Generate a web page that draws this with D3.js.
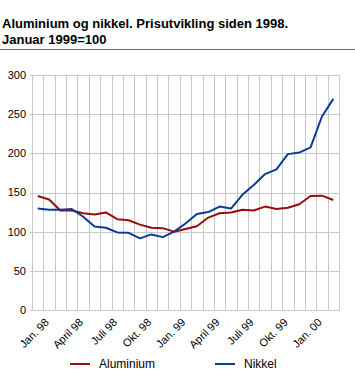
<!DOCTYPE html>
<html>
<head>
<meta charset="utf-8">
<script src="https://cdn.jsdelivr.net/npm/d3@7"></script>
<style>
  html, body { margin: 0; padding: 0; background: #fff; }
  svg { display: block; font-family: "Liberation Sans", Arial, sans-serif; }
</style>
</head>
<body>
<svg id="chart" width="355" height="378"></svg>
<script>
const titleLines = ["Aluminium og nikkel. Prisutvikling siden 1998.", "Januar 1999=100"];
const months = ["Jan. 98","Feb. 98","Mars 98","April 98","Mai 98","Juni 98","Juli 98","Aug. 98","Sep. 98","Okt. 98","Nov. 98","Des. 98",
                "Jan. 99","Feb. 99","Mars 99","April 99","Mai 99","Juni 99","Juli 99","Aug. 99","Sep. 99","Okt. 99","Nov. 99","Des. 99",
                "Jan. 00","Feb. 00","Mars 00"];
const tickLabels = ["Jan. 98","April 98","Juli 98","Okt. 98","Jan. 99","April 99","Juli 99","Okt. 99","Jan. 00"];
const aluminium = [145.5, 141, 127, 127, 123.5, 122, 124.5, 116, 114.5, 109, 105, 104.5, 100, 103.5, 107, 118, 123.5, 124.5, 128, 127, 132, 129, 130.5, 135, 145.5, 146, 140.5];
const nikkel    = [129.5, 128, 128, 129, 119, 106.5, 105, 99, 98.5, 91.5, 96.5, 93, 100, 110.5, 122.5, 125, 132, 129.5, 147, 159.5, 173.5, 179.5, 199, 201, 207.5, 247, 269.5];
const yTicks = [0, 50, 100, 150, 200, 250, 300];
const seriesNames = ["Aluminium", "Nikkel"];
const seriesColors = ["#9c0a0a", "#0a3a9a"];

const svg = d3.select("#chart");
const plotLeft = 32, plotRight = 339, plotTop = 75, plotBottom = 310;

// Title
svg.append("g").selectAll("text").data(titleLines).join("text")
  .attr("x", 2).attr("y", (d, i) => 28 + i * 16)
  .attr("font-size", 13).attr("font-weight", "bold").attr("fill", "#000")
  .text(d => d);
svg.append("line").attr("x1", 0).attr("x2", 355).attr("y1", 49.5).attr("y2", 49.5)
  .attr("stroke", "#228f8f").attr("stroke-width", 1);

const x = d3.scaleBand().domain(months).range([plotLeft, plotRight]).paddingInner(0).paddingOuter(0);
const y = d3.scaleLinear().domain([0, 300]).range([plotBottom, plotTop]);
const px = v => Math.round(v) + 0.5;

// Horizontal grid
svg.append("g").selectAll("line").data(yTicks).join("line")
  .attr("x1", plotLeft - 2).attr("x2", plotRight + 0.5)
  .attr("y1", d => px(y(d))).attr("y2", d => px(y(d)))
  .attr("stroke", "#c8c8c8").attr("stroke-width", 1);

// Vertical grid at category boundaries
const bounds = months.map(m => x(m)).concat([x(months[months.length - 1]) + x.bandwidth()]);
svg.append("g").selectAll("line").data(bounds).join("line")
  .attr("x1", d => px(d)).attr("x2", d => px(d))
  .attr("y1", px(y(300))).attr("y2", px(y(0)))
  .attr("stroke", "#c8c8c8").attr("stroke-width", 1);

// Y labels
svg.append("g").selectAll("text").data(yTicks).join("text")
  .attr("x", 26).attr("y", d => y(d)).attr("dy", "0.36em")
  .attr("text-anchor", "end").attr("font-size", 11).attr("fill", "#000")
  .text(d => d);

// X labels
svg.append("g").selectAll("text").data(tickLabels).join("text")
  .attr("transform", d => `translate(${x(d) + x.bandwidth() / 2 + 12},${323}) rotate(-45)`)
  .attr("text-anchor", "end").attr("font-size", 11).attr("fill", "#000")
  .text(d => d);

// Lines
const line = d3.line().x((d, i) => x(months[i]) + x.bandwidth() / 2).y(d => y(d));
[aluminium, nikkel].forEach((s, k) => {
  svg.append("path").datum(s).attr("d", line)
    .attr("fill", "none").attr("stroke", seriesColors[k]).attr("stroke-width", 2)
    .attr("stroke-linejoin", "round");
});

// Legend
const legendX = [70, 215];
const lg = svg.append("g").selectAll("g").data(seriesNames).join("g")
  .attr("transform", (d, i) => `translate(${legendX[i]},364)`);
lg.append("line").attr("x1", 0).attr("x2", 20).attr("y1", 0).attr("y2", 0)
  .attr("stroke", (d, i) => seriesColors[i]).attr("stroke-width", 2);
lg.append("text").attr("x", 29).attr("y", 0).attr("dy", "0.36em")
  .attr("font-size", 12).attr("fill", "#000").text(d => d);
</script>
</body>
</html>
